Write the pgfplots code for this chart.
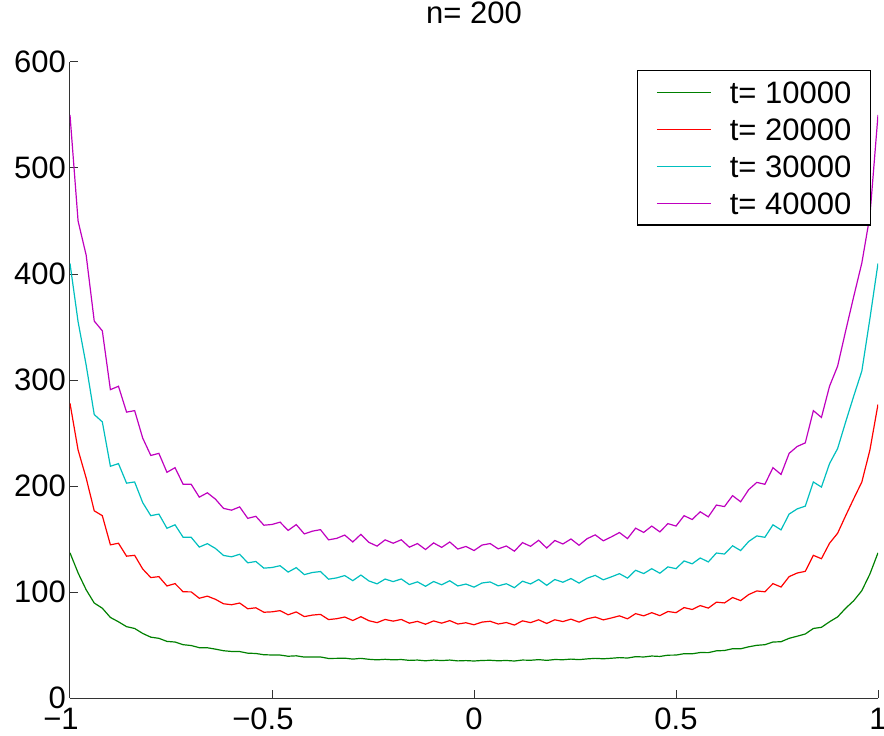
\documentclass[border=0pt]{standalone}
\usepackage{fontspec}
\setmainfont{Liberation Sans}
\usepackage{pgfplots}
\usepackage{pgfplotstable}
\pgfplotsset{compat=1.18}
\definecolor{mgreen}{rgb}{0,0.5,0}
\definecolor{mred}{rgb}{1,0,0}
\definecolor{mcyan}{rgb}{0,0.75,0.75}
\definecolor{mmag}{rgb}{0.75,0,0.75}
\newcommand\fs{\fontsize{15.5}{18.6}\selectfont}
\pgfplotstableread{
x g r c m
-1.00 137 278 410 550
-0.98 118 234 355 450
-0.96 102.1 207.5 314.1 417.8
-0.94 89.6 176.6 267.4 355.6
-0.92 84.7 172.0 260.5 346.4
-0.90 76.0 144.5 218.6 290.9
-0.88 71.9 146.0 221.1 294.1
-0.86 67.3 133.8 202.7 269.7
-0.84 65.6 134.6 203.8 271.1
-0.82 60.9 121.7 184.3 245.2
-0.80 57.4 113.6 172.0 228.8
-0.78 56.3 114.5 173.5 230.8
-0.76 53.4 105.7 160.1 212.9
-0.74 52.8 107.9 163.4 217.3
-0.72 50.3 100.2 151.6 201.6
-0.70 49.5 100.1 151.6 201.6
-0.68 47.5 94.1 142.4 189.5
-0.66 47.4 96.1 145.6 193.6
-0.64 46.1 93.1 141.1 187.6
-0.62 44.6 88.9 134.5 178.9
-0.60 43.9 88.0 133.2 177.2
-0.58 43.8 89.6 135.6 180.3
-0.56 42.3 84.2 127.5 169.5
-0.54 42.0 85.1 128.8 171.4
-0.52 40.8 80.9 122.5 163.0
-0.50 40.6 81.3 123.1 163.7
-0.48 40.5 82.4 124.8 165.9
-0.46 39.4 78.5 118.8 158.1
-0.44 39.8 81.2 123.0 163.6
-0.42 38.6 76.8 116.4 154.8
-0.40 38.7 78.2 118.4 157.4
-0.38 38.7 78.9 119.3 158.8
-0.36 37.3 74.0 112.1 149.2
-0.34 37.4 74.8 113.3 150.6
-0.32 37.6 76.4 115.5 153.7
-0.30 36.7 73.1 110.7 147.2
-0.28 37.4 76.7 116.0 154.4
-0.26 36.5 72.9 110.4 146.8
-0.24 36.0 71.1 107.7 143.3
-0.22 36.5 74.1 112.2 149.2
-0.20 36.0 72.5 109.8 146.0
-0.18 36.3 74.1 112.3 149.3
-0.16 35.5 70.6 107.0 142.3
-0.14 35.8 72.3 109.6 145.7
-0.12 35.1 69.6 105.4 140.1
-0.10 35.8 72.7 109.9 146.3
-0.08 35.3 70.6 106.8 142.1
-0.06 35.8 73.0 110.6 147.2
-0.04 35.0 69.8 105.7 140.5
-0.02 35.3 71.0 107.5 143.0
0.00 34.9 69.1 104.6 139.1
0.02 35.4 71.6 108.5 144.3
0.04 35.6 72.4 109.5 145.7
0.06 35.1 69.8 105.8 140.7
0.08 35.4 71.2 107.8 143.4
0.10 34.9 68.8 104.1 138.5
0.12 35.8 72.8 110.2 146.6
0.14 35.6 71.1 107.6 143.1
0.16 36.2 73.8 111.8 148.8
0.18 35.5 70.3 106.3 141.5
0.20 36.3 73.8 111.8 148.6
0.22 36.1 72.1 109.2 145.3
0.24 36.7 74.4 112.7 150.0
0.26 36.2 71.6 108.4 144.1
0.28 36.9 74.7 113.0 150.3
0.30 37.4 76.4 115.7 153.9
0.32 37.0 73.7 111.5 148.3
0.34 37.5 75.5 114.3 152.0
0.36 38.1 77.5 117.3 156.1
0.38 37.7 74.7 113.1 150.4
0.40 39.0 79.6 120.5 160.2
0.42 38.7 77.5 117.4 156.2
0.44 39.6 80.5 122.0 162.2
0.46 39.2 77.7 117.7 156.7
0.48 40.4 81.6 123.7 164.5
0.50 40.5 80.5 122.0 162.2
0.52 41.8 85.3 129.3 172.0
0.54 41.7 83.5 126.6 168.4
0.56 42.9 87.2 132.1 175.7
0.58 42.8 84.8 128.4 170.9
0.60 44.5 90.4 136.8 182.0
0.62 44.8 89.7 135.8 180.6
0.64 46.5 94.8 143.6 190.9
0.66 46.4 91.9 139.1 185.1
0.68 48.3 97.6 147.7 196.6
0.70 49.7 101.0 152.9 203.4
0.72 50.3 100.2 151.6 201.6
0.74 52.8 107.9 163.4 217.3
0.76 53.1 104.7 158.6 210.9
0.78 56.3 114.5 173.5 230.8
0.80 58.3 117.9 178.4 237.3
0.82 60.4 119.5 181.0 240.7
0.84 65.6 134.6 203.8 271.1
0.86 66.7 131.4 199.0 264.7
0.88 71.9 146.0 221.1 294.1
0.90 76.5 155.4 235.3 313.0
0.92 84.7 172.0 260.5 346.4
0.94 91.8 188.1 284.9 378.9
0.96 101.3 203.8 308.5 410.4
0.98 117 234 358 455
1.00 137 277 410 550
}\data
\begin{document}
\begin{tikzpicture}
\begin{axis}[
  at={(0,0)}, anchor=south west,
  width=404pt, height=318pt, scale only axis,
  xmin=-1, xmax=1, ymin=0, ymax=600,
  axis x line*=bottom, axis y line*=left,
  axis line style={black!80, line width=0.5pt},
  tick align=inside, major tick length=4pt,
  tick style={black!80, line width=0.5pt},
  xtick={-1,-0.5,0,0.5,1},
  xticklabels={\llap{−}1,\llap{−}0.5,0,0.5,1},
  ytick={0,100,200,300,400,500,600},
  yticklabels={0,100,200,300,400,500,600},
  tick label style={font=\fs},
  xticklabel style={yshift=-1.5pt},
  yticklabel style={xshift=1.5pt},
  title={n= 200},
  title style={font=\fs, at={(0.5,1)}, anchor=base, yshift=13pt},
  no markers,
  legend style={at={(0.9913,0.9874)}, anchor=north east, draw=black, line width=0.6pt,
    font=\fs, inner xsep=9.5pt, inner ysep=5.5pt, row sep=7.65pt, column sep=0pt,
    nodes={inner sep=0pt, text depth=0pt}},
  legend cell align=left,
  legend image code/.code={\draw[#1, line width=0.6pt] (0pt,0pt) -- (27pt,0pt); \path[draw=none] (27pt,0pt) -- (36.5pt,0pt);},
]
\addplot[mgreen, line width=0.6pt] table[x=x,y=g] {\data};
\addlegendentry{t= 10000}
\addplot[mred, line width=0.6pt] table[x=x,y=r] {\data};
\addlegendentry{t= 20000}
\addplot[mcyan, line width=0.6pt] table[x=x,y=c] {\data};
\addlegendentry{t= 30000}
\addplot[mmag, line width=0.6pt] table[x=x,y=m] {\data};
\addlegendentry{t= 40000}
\end{axis}
\pgfresetboundingbox
\path[use as bounding box] (-35pt,-18.5pt) rectangle (407pt,349pt);
\end{tikzpicture}
\end{document}
